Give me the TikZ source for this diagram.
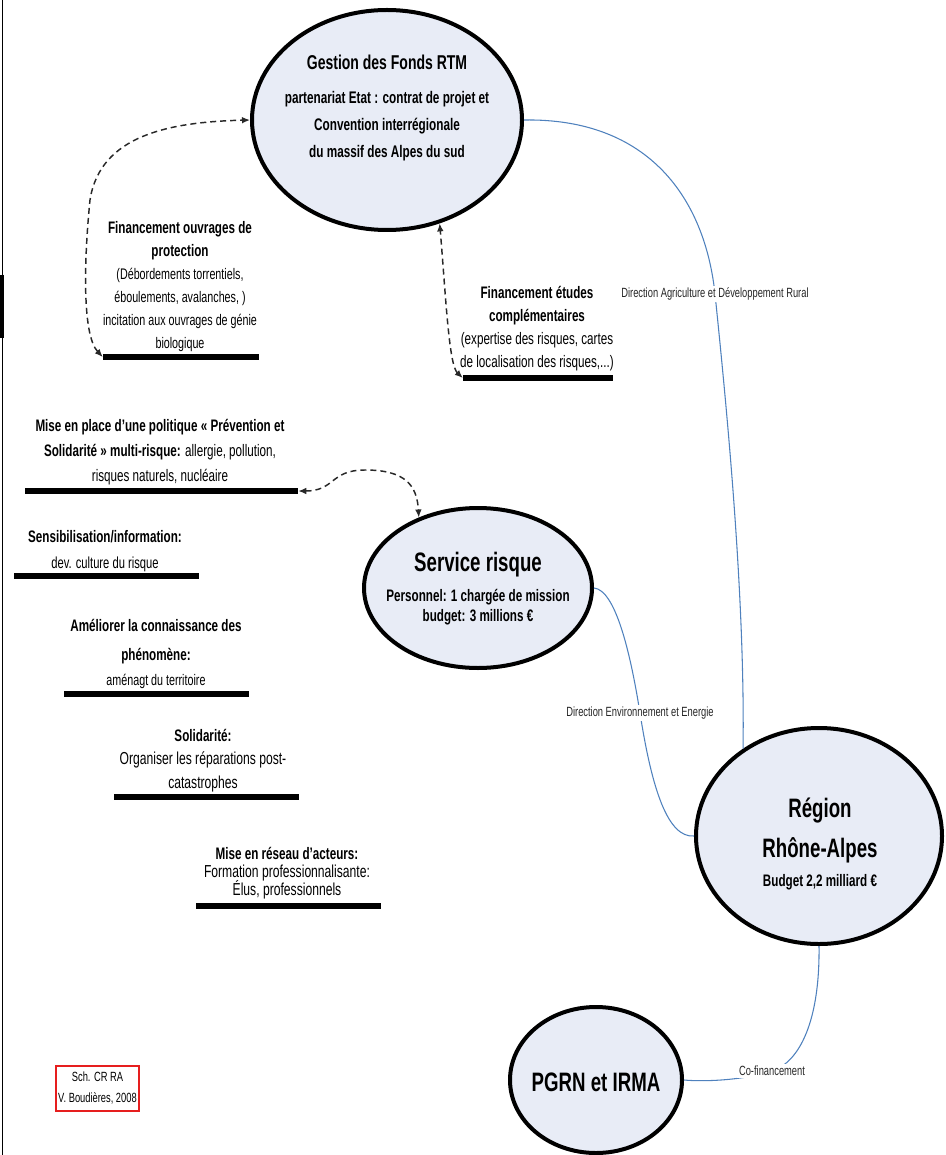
\documentclass[tikz,border=0pt]{standalone}
\usepackage{fontspec}
\setmainfont{Liberation Sans}[FakeStretch=0.7]
\usetikzlibrary{arrows.meta,shapes.geometric}
\definecolor{bubFill}{RGB}{232,236,246}
\definecolor{linkCol}{RGB}{79,129,189}
\definecolor{dashCol}{RGB}{40,40,40}
\definecolor{signCol}{RGB}{230,30,30}
\newcommand{\hd}[1]{{\fontsize{12.5}{15}\selectfont\bfseries #1}}
\tikzset{
  bubble/.style={ellipse,draw=black,line width=3pt,fill=bubFill,inner sep=0pt},
  bar/.style={fill=black,inner sep=0pt,minimum height=4.5pt},
  blk/.style={align=center,inner sep=0pt,anchor=north,
              execute at begin node={\lineskiplimit=-20pt\relax}},
  lnk/.style={draw=linkCol,line width=0.8pt},
  dlnk/.style={draw=dashCol,line width=1.1pt,dash pattern=on 4.5pt off 3pt,
               {Latex[length=6pt,width=5pt]}-{Latex[length=6pt,width=5pt]}},
  lab/.style={font=\fontsize{10}{12}\selectfont,text=black!85,fill=white,inner sep=1.5pt},
}

\begin{document}
\begin{tikzpicture}[x=0.75pt,y=-0.75pt]
\useasboundingbox (0,0) rectangle (945,1155);
% left frame
\draw[line width=1.1pt] (2.5,0) -- (2.5,1155);
\draw[line width=3pt] (2,275) -- (2,338);

% the four bubbles
\node[bubble,minimum width=202.5pt,minimum height=165pt] (rtm) at (387,120) {};
\node[bubble,minimum width=171pt,minimum height=120pt] (svc) at (478,588) {};
\node[bubble,minimum width=184.5pt,minimum height=162pt] (reg) at (819,836) {};
\node[bubble,minimum width=129pt,minimum height=109.5pt] (pgrn) at (596,1080) {};

\node[blk,font=\fontsize{12.6}{20}\selectfont\bfseries] (rtm-t) at (387,55)
  {{\fontsize{15}{18}\selectfont Gestion des Fonds RTM}\\[5.5pt]
   partenariat Etat : contrat de projet et\\ Convention interrégionale\\ du massif des Alpes du sud};
\node[blk,font=\fontsize{12.5}{15}\selectfont\bfseries] (svc-t) at (478,552)
  {{\fontsize{20}{24}\selectfont Service risque}\\[7.1pt]
   Personnel: 1 chargée de mission\\ budget: 3 millions €};
\node[blk,font=\fontsize{12.5}{21.4}\selectfont\bfseries] (reg-t) at (820,798)
  {{\fontsize{20}{24}\selectfont Région}\\[8.6pt]
   {\fontsize{20}{24}\selectfont Rhône-Alpes}\\ Budget 2,2 milliard €};
\node[font=\fontsize{20}{24}\selectfont\bfseries,inner sep=0pt] (pgrn-t) at (596,1082) {PGRN et IRMA};

% text blocks and their bars
\node[blk,font=\fontsize{11.5}{17.25}\selectfont] (fin-ouv) at (180,221)
  {\hd{Financement ouvrages de}\\ \hd{protection}\\ (Débordements torrentiels,\\
   éboulements, avalanches, )\\ incitation aux ouvrages de génie\\ biologique};
\node[blk,font=\fontsize{12.5}{17.25}\selectfont] (fin-etu) at (537,286)
  {\hd{Financement études}\\ \hd{complémentaires}\\ (expertise des risques, cartes\\
   de localisation des risques,...)};
\node[blk,font=\fontsize{12.5}{18.75}\selectfont] (prev) at (160,419)
  {\hd{Mise en place d’une politique « Prévention et}\\
   \hd{Solidarité » multi-risque:} allergie, pollution,\\ risques naturels, nucléaire};
\node[blk,font=\fontsize{12}{19.5}\selectfont] (sens) at (105,530)
  {\hd{Sensibilisation/information:}\\ dev. culture du risque};
\node[blk,font=\fontsize{11.5}{18.75}\selectfont] (conn) at (156,619)
  {\hd{Améliorer la connaissance des}\\[3pt] \hd{phénomène:}\\ aménagt du territoire};
\node[blk,font=\fontsize{13}{17.6}\selectfont] (solid) at (203,729)
  {\hd{Solidarité:}\\ Organiser les réparations post-\\ catastrophes};
\node[blk,font=\fontsize{13}{13.5}\selectfont] (reseau) at (287,847)
  {\hd{Mise en réseau d’acteurs:}\\ Formation professionnalisante:\\ Élus, professionnels};

\node[bar,minimum width=117pt] (bar-ouv) at (181,357) {};
\node[bar,minimum width=112.5pt] (bar-etu) at (538,378) {};
\node[bar,minimum width=204.75pt] (bar-prev) at (161.5,491) {};
\foreach \n/\x/\y in {sens/106.5/576,conn/156.5/694,solid/206.5/797,res/288.5/906}
  \node[bar,minimum width=138.75pt] (bar-\n) at (\x,\y) {};

% funding links
\draw[lnk] (rtm.east) .. controls (650,118) and (705,200) .. (715,294)
  node[lab] (dadr) {Direction Agriculture et Développement Rural}
  .. controls (728,420) and (745,600) .. (reg.131);
\draw[lnk] (svc.east) .. controls (615,590) and (630,650) .. (640,713)
  node[lab] (dee) {Direction Environnement et Energie}
  .. controls (652,790) and (668,838) .. (reg.west);
\draw[lnk] (reg.south) .. controls (820,1020) and (800,1062) .. (772,1071)
  node[lab] (cof) {Co-financement}
  .. controls (745,1080) and (705,1082) .. (pgrn.east);

% dashed exchanges
\draw[dlnk] (bar-ouv.west) .. controls (82,335) and (84,260) .. (90,200)
  .. controls (100,135) and (170,122) .. (rtm.west);
\draw[dlnk] (bar-etu.west) .. controls (449,365) and (446,300) .. (rtm.-63);
\draw[dlnk] (bar-prev.east) .. controls (335,491) and (330,470) .. (365,470)
  .. controls (405,470) and (417,485) .. (svc.130);

\node[draw=signCol,line width=1.1pt,minimum width=62pt,minimum height=34pt,align=center,
      font=\fontsize{10}{15.75}\selectfont,inner sep=0pt] (sign) at (97.5,1088.5)
  {Sch. CR RA\\ V. Boudières, 2008};
\end{tikzpicture}
\end{document}
